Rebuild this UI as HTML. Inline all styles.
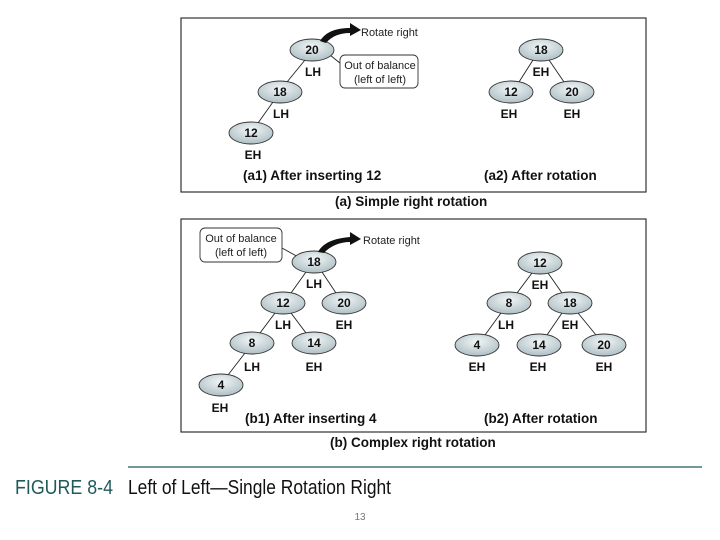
<!DOCTYPE html>
<html><head><meta charset="utf-8"><style>
html,body{margin:0;padding:0;background:#fff;width:720px;height:540px;overflow:hidden}
svg{display:block}
text{font-family:"Liberation Sans",Arial,sans-serif}
</style></head><body>
<svg width="720" height="540" viewBox="0 0 720 540" xmlns="http://www.w3.org/2000/svg">
<defs>
<radialGradient id="g" cx="0.5" cy="0.35" r="0.7">
<stop offset="0" stop-color="#f2f6f7"/><stop offset="1" stop-color="#a9bbc1"/>
</radialGradient>
</defs>
<rect x="181" y="18" width="465" height="174" fill="none" stroke="#333" stroke-width="1.2"/>
<rect x="181" y="219" width="465" height="213" fill="none" stroke="#333" stroke-width="1.2"/>
<g stroke="#222" stroke-width="0.9">
<line x1="305" y1="60" x2="287" y2="82"/><line x1="273" y1="102" x2="258" y2="123"/>
<line x1="533" y1="60" x2="519" y2="82"/><line x1="549" y1="60" x2="564" y2="82"/>
<line x1="306" y1="272" x2="291" y2="293"/><line x1="322" y1="272" x2="336" y2="293"/>
<line x1="275" y1="313" x2="260" y2="333"/><line x1="291" y1="313" x2="306" y2="333"/>
<line x1="245" y1="353" x2="228" y2="375"/>
<line x1="532" y1="273" x2="517" y2="293"/><line x1="548" y1="273" x2="562" y2="293"/>
<line x1="501" y1="313" x2="485" y2="335"/><line x1="562" y1="313" x2="547" y2="335"/><line x1="578" y1="313" x2="596" y2="335"/>
<line x1="330" y1="55" x2="346" y2="68"/><line x1="300" y1="258" x2="282" y2="248"/>
</g>
<g fill="url(#g)" stroke="#333" stroke-width="0.9">
<ellipse cx="312" cy="50" rx="22" ry="11"/><ellipse cx="280" cy="92" rx="22" ry="11"/><ellipse cx="251" cy="133" rx="22" ry="11"/>
<ellipse cx="541" cy="50" rx="22" ry="11"/><ellipse cx="511" cy="92" rx="22" ry="11"/><ellipse cx="572" cy="92" rx="22" ry="11"/>
<ellipse cx="314" cy="262" rx="22" ry="11"/><ellipse cx="283" cy="303" rx="22" ry="11"/><ellipse cx="344" cy="303" rx="22" ry="11"/>
<ellipse cx="252" cy="343" rx="22" ry="11"/><ellipse cx="314" cy="343" rx="22" ry="11"/><ellipse cx="221" cy="385" rx="22" ry="11"/>
<ellipse cx="540" cy="263" rx="22" ry="11"/><ellipse cx="509" cy="303" rx="22" ry="11"/><ellipse cx="570" cy="303" rx="22" ry="11"/>
<ellipse cx="477" cy="345" rx="22" ry="11"/><ellipse cx="539" cy="345" rx="22" ry="11"/><ellipse cx="604" cy="345" rx="22" ry="11"/>
</g>
<g font-size="12" font-weight="bold" text-anchor="middle" fill="#111">
<text x="312" y="54">20</text><text x="280" y="96">18</text><text x="251" y="137">12</text>
<text x="541" y="54">18</text><text x="511" y="96">12</text><text x="572" y="96">20</text>
<text x="314" y="266">18</text><text x="283" y="307">12</text><text x="344" y="307">20</text>
<text x="252" y="347">8</text><text x="314" y="347">14</text><text x="221" y="389">4</text>
<text x="540" y="267">12</text><text x="509" y="307">8</text><text x="570" y="307">18</text>
<text x="477" y="349">4</text><text x="539" y="349">14</text><text x="604" y="349">20</text>
<text x="313" y="76">LH</text><text x="281" y="118">LH</text><text x="253" y="159">EH</text>
<text x="541" y="76">EH</text><text x="509" y="118">EH</text><text x="572" y="118">EH</text>
<text x="314" y="288">LH</text><text x="283" y="329">LH</text><text x="344" y="329">EH</text>
<text x="252" y="371">LH</text><text x="314" y="371">EH</text><text x="220" y="412">EH</text>
<text x="540" y="289">EH</text><text x="506" y="329">LH</text><text x="570" y="329">EH</text>
<text x="477" y="371">EH</text><text x="538" y="371">EH</text><text x="604" y="371">EH</text>
</g>
<g font-size="13.5" font-weight="bold" fill="#111">
<text x="243" y="180">(a1) After inserting 12</text><text x="484" y="180">(a2) After rotation</text>
<text x="335" y="206">(a) Simple right rotation</text>
<text x="245" y="423">(b1) After inserting 4</text><text x="484" y="423">(b2) After rotation</text>
<text x="330" y="447">(b) Complex right rotation</text>
</g>
<path d="M320 41 C326 31 338 28 350 28 L350 23 L361 30 L350 36 L350 33 C340 33 332 36 326 43 Z" fill="#111"/>
<path d="M318 252 C324 241 338 238 350 237 L350 232 L361 239 L350 245 L350 242 C340 242 330 246 324 253 Z" fill="#111"/>
<g font-size="11" fill="#222">
<text x="361" y="36">Rotate right</text><text x="363" y="244">Rotate right</text>
</g>
<rect x="340" y="55" width="78" height="33" rx="5" fill="#fff" stroke="#333" stroke-width="0.9"/>
<rect x="200" y="228" width="82" height="34" rx="5" fill="#fff" stroke="#333" stroke-width="0.9"/>
<g font-size="11" fill="#222" text-anchor="middle">
<text x="380" y="69">Out of balance</text><text x="380" y="83">(left of left)</text>
<text x="241" y="242">Out of balance</text><text x="241" y="256">(left of left)</text>
</g>
<line x1="128" y1="467" x2="702" y2="467" stroke="#1f5a5a" stroke-width="1.2"/>
<text x="15" y="494" font-size="20" fill="#1f5a5a" textLength="98" lengthAdjust="spacingAndGlyphs">FIGURE 8-4</text>
<text x="128" y="494" font-size="20" fill="#111" textLength="263" lengthAdjust="spacingAndGlyphs">Left of Left—Single Rotation Right</text>
<text x="360" y="520" font-size="10" fill="#777" text-anchor="middle">13</text>
</svg>
</body></html>
